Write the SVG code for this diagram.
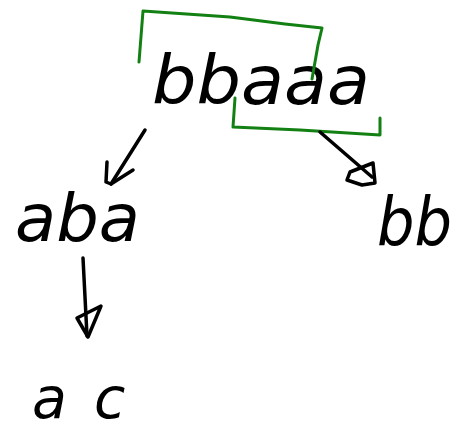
<svg xmlns="http://www.w3.org/2000/svg" width="462" height="434" viewBox="0 0 462 434">
<style>
.t{font-family:"DejaVu Sans","Liberation Sans",sans-serif;font-style:italic;fill:#000}
.g{fill:none;stroke:#128012;stroke-width:3;stroke-linecap:round;stroke-linejoin:round}
.c{fill:none;stroke:#000;stroke-width:3.5;stroke-linecap:round;stroke-linejoin:round}
</style>
<rect width="462" height="434" fill="#fff"/>
<g id="root">
<text class="t" x="152" y="104" font-size="68" textLength="218" lengthAdjust="spacingAndGlyphs">bbaaa</text>
<path class="g" d="M139,62 L143,11 L230,17 L285,24 L322,28 L318,45 L312,79"/>
<path class="g" d="M235,98 L233,127 L300,130 L380,135 L380,118"/>
</g>
<g id="node-aba">
<text class="t" x="15" y="241" font-size="66" textLength="125" lengthAdjust="spacingAndGlyphs">aba</text>
</g>
<g id="node-bb">
<text class="t" x="377" y="246" font-size="68" textLength="75" lengthAdjust="spacingAndGlyphs">bb</text>
</g>
<g id="node-ac">
<text class="t" x="32 94" y="418" font-size="57">ac</text>
</g>
<g id="connectors">
<path class="c" d="M145,130 L111,184"/>
<path class="c" d="M107,162 L106,182 L111,184 L133,170"/>
<path class="c" d="M320,132 L372,177"/>
<path class="c" d="M373,163 L375,183 L362,185 L347,180 L350,172 L373,163"/>
<path class="c" d="M83,258 L87,336"/>
<path class="c" d="M77,318 L88,337 L101,306 Z"/>
</g>
</svg>
